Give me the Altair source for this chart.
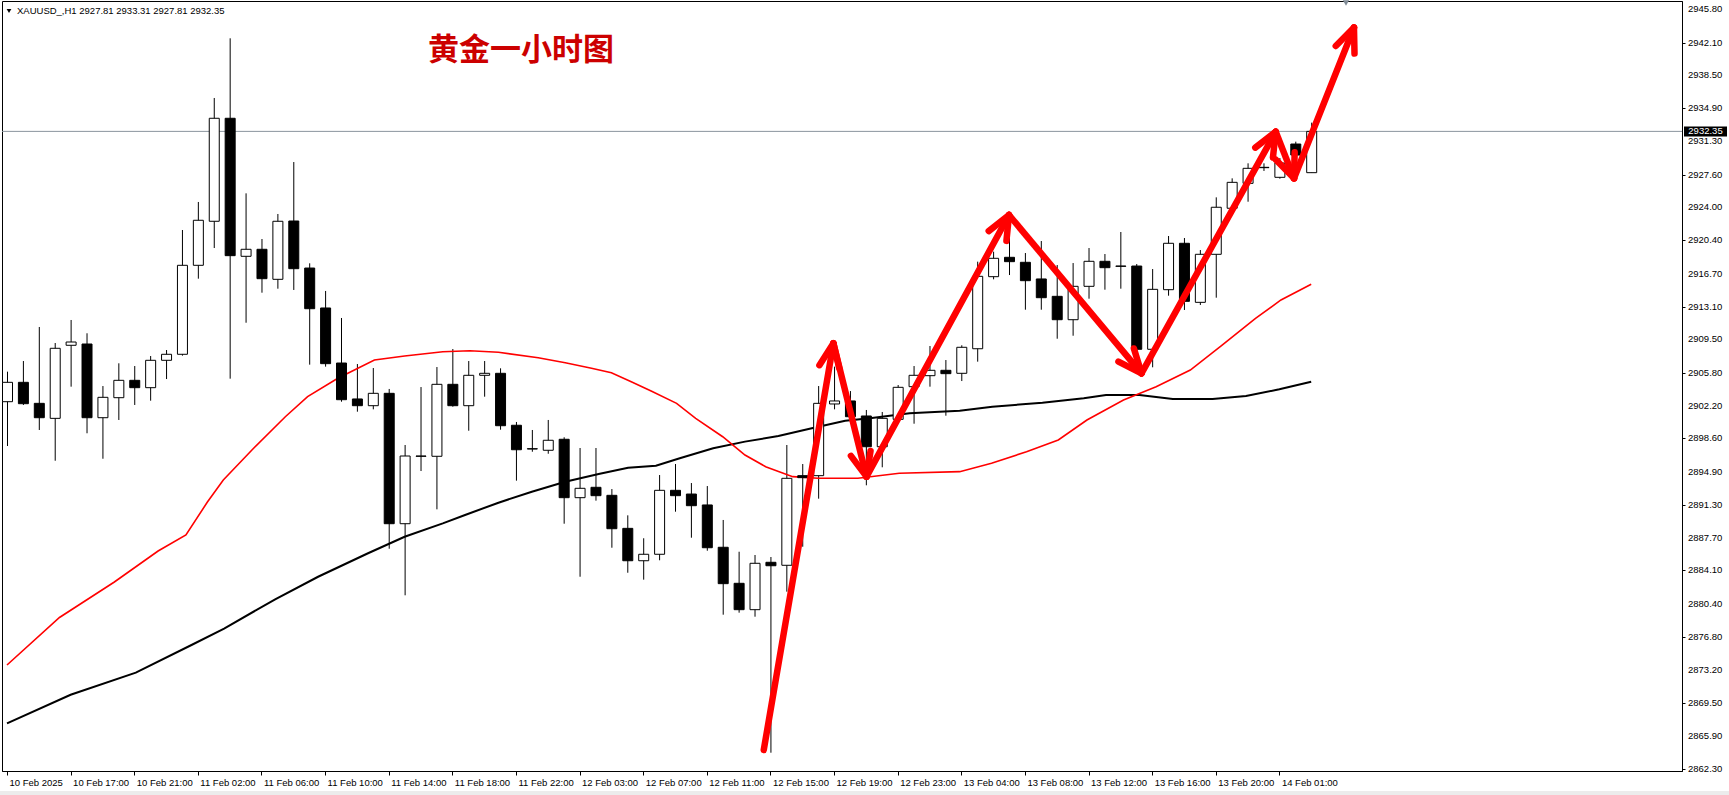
import json
import math

import altair as alt
import numpy as np
import pandas as pd

# ---------------------------------------------------------------------------
# XAUUSD H1 candles (bar 0 = 10 Feb 2025 13:00, one bar per trading hour)
# ---------------------------------------------------------------------------
opens = [2902.64, 2904.77, 2902.46, 2900.81, 2908.84, 2908.98, 2900.88, 2903.08, 2904.99, 2904.18,
         2907.19, 2907.85, 2917.63, 2922.47, 2933.79, 2918.62, 2919.39, 2916.09, 2922.50, 2917.33,
         2912.94, 2906.89, 2902.94, 2902.20, 2903.56, 2889.23, 2896.67, 2896.64, 2904.55, 2902.20,
         2905.54, 2905.76, 2900.05, 2897.47, 2897.30, 2898.51, 2892.09, 2893.23, 2892.35, 2888.72,
         2885.16, 2885.87, 2892.90, 2892.49, 2891.29, 2886.64, 2882.68, 2879.78, 2884.99, 2884.66,
         2894.51, 2894.51, 2902.39, 2902.72, 2901.07, 2897.69, 2900.70, 2904.29, 2905.50, 2906.09,
         2905.76, 2908.46, 2916.38, 2918.51, 2917.96, 2916.13, 2914.22, 2911.65, 2915.32, 2918.07,
         2917.55, 2917.55, 2908.40, 2914.95, 2920.05, 2913.56, 2918.84, 2923.90, 2926.64, 2928.36,
         2927.30, 2930.96, 2927.81]
highs = [2905.94, 2907.11, 2910.85, 2909.09, 2911.62, 2910.16, 2904.36, 2906.86, 2906.56, 2907.66,
         2908.32, 2921.51, 2924.59, 2936.02, 2942.58, 2925.54, 2920.52, 2923.27, 2928.98, 2917.85,
         2914.81, 2911.84, 2906.78, 2906.34, 2904.04, 2897.88, 2904.25, 2906.45, 2908.43, 2907.11,
         2907.11, 2906.31, 2900.41, 2899.53, 2900.63, 2898.73, 2897.55, 2897.55, 2893.04, 2890.15,
         2887.63, 2894.58, 2895.79, 2893.70, 2893.37, 2889.64, 2886.15, 2885.79, 2885.57, 2897.88,
         2895.79, 2904.36, 2906.49, 2903.81, 2901.73, 2901.51, 2904.47, 2906.56, 2908.76, 2907.22,
         2908.84, 2918.03, 2919.13, 2921.32, 2918.98, 2920.30, 2917.66, 2917.88, 2919.53, 2918.87,
         2921.29, 2917.77, 2917.22, 2920.85, 2920.63, 2919.31, 2925.10, 2927.19, 2928.84, 2928.84,
         2929.42, 2931.22, 2933.31]
lows = [2897.77, 2902.28, 2899.53, 2896.15, 2904.29, 2899.17, 2896.37, 2900.63, 2902.28, 2902.75,
        2905.13, 2907.70, 2916.16, 2919.53, 2905.17, 2911.32, 2914.62, 2915.06, 2914.92, 2906.71,
        2906.49, 2902.64, 2901.54, 2901.80, 2886.48, 2881.36, 2895.02, 2890.81, 2902.09, 2899.45,
        2903.19, 2899.56, 2893.96, 2897.14, 2896.92, 2889.23, 2883.40, 2891.76, 2886.59, 2883.84,
        2883.08, 2885.21, 2890.55, 2887.69, 2886.26, 2879.23, 2879.45, 2879.01, 2864.06, 2881.76,
        2886.70, 2891.98, 2901.80, 2900.63, 2893.45, 2895.43, 2900.63, 2900.22, 2904.29, 2901.10,
        2904.91, 2907.04, 2916.09, 2916.56, 2912.75, 2912.75, 2909.56, 2909.89, 2913.96, 2914.95,
        2915.06, 2908.10, 2906.42, 2914.29, 2912.72, 2913.27, 2914.07, 2923.49, 2924.62, 2928.00,
        2927.15, 2928.65, 2927.81]
closes = [2904.77, 2902.42, 2900.88, 2908.51, 2909.20, 2900.88, 2903.12, 2904.99, 2904.18, 2907.19,
          2907.85, 2917.63, 2922.58, 2933.79, 2918.69, 2919.39, 2916.16, 2922.47, 2917.26, 2912.86,
          2906.82, 2902.86, 2902.20, 2903.56, 2889.23, 2896.67, 2896.64, 2904.55, 2902.20, 2905.54,
          2905.76, 2900.00, 2897.36, 2897.44, 2898.40, 2892.09, 2893.12, 2892.31, 2888.68, 2885.16,
          2885.87, 2892.90, 2892.31, 2891.21, 2886.59, 2882.64, 2879.78, 2884.88, 2884.61, 2894.22,
          2894.29, 2902.46, 2902.72, 2900.99, 2897.69, 2900.81, 2904.22, 2905.54, 2906.09, 2905.72,
          2908.62, 2916.42, 2918.40, 2918.03, 2915.94, 2914.07, 2911.65, 2915.32, 2918.07, 2917.37,
          2917.52, 2908.40, 2914.99, 2920.05, 2913.67, 2918.84, 2924.01, 2926.75, 2928.29, 2928.40,
          2928.87, 2929.75, 2932.35]

# Moving averages (bar position, value)
red_ma_bar = [0, 3.3, 6.75, 9.5, 11.25, 12.6, 13.6, 15.4, 17.5, 18.9,
              20.8, 23.1, 25, 27.4, 29.1, 30.9, 33.4, 35.1, 36.75, 38,
              39.25, 40.5, 42.1, 43.3, 45, 46.4, 47.7, 49.4, 51, 53.5,
              56.1, 59.9, 61.9, 64.1, 66.1, 67.9, 70.2, 72.25, 74.4, 76.4,
              78.5, 80.1, 82]
red_ma = [2873.70, 2878.92, 2882.82, 2886.23, 2887.99, 2891.61, 2894.03, 2897.33, 2900.99, 2903.19,
          2905.21, 2907.22, 2907.66, 2908.13, 2908.24, 2908.07, 2907.47, 2906.92, 2906.31, 2905.83,
          2904.84, 2903.82, 2902.46, 2900.81, 2898.79, 2896.78, 2895.50, 2894.40, 2894.22, 2894.22,
          2894.77, 2894.95, 2895.87, 2897.14, 2898.43, 2900.63, 2902.83, 2904.29, 2906.12, 2908.87,
          2911.80, 2913.82, 2915.54]
black_ma_bar = [0, 4.0, 8.1, 11.6, 13.65, 16.86, 19.56, 22.7, 25, 27.4,
                28.8, 30.9, 33, 35.1, 37.2, 39.05, 40.8, 42.3, 44.4, 46.4,
                48.5, 50.6, 52.7, 54.25, 56.75, 59.9, 61.95, 65.1, 67.7, 69.1,
                71.2, 73.3, 75.8, 77.9, 80, 82]
black_ma = [2867.28, 2870.43, 2872.86, 2875.90, 2877.71, 2880.92, 2883.40, 2885.98, 2887.80, 2889.27,
            2890.19, 2891.54, 2892.75, 2893.85, 2894.69, 2895.39, 2895.60, 2896.42, 2897.52, 2898.25,
            2898.87, 2899.72, 2900.55, 2900.81, 2901.36, 2901.65, 2902.09, 2902.53, 2903.01, 2903.38,
            2903.38, 2902.94, 2902.94, 2903.27, 2904.00, 2904.83]

# Hand-drawn trend path (bar position, price); every leg ends in an arrow head
path_bar = [47.58, 51.96, 54.04, 63.0, 71.33, 79.77, 80.92, 84.69]
path_price = [2864.36, 2909.06, 2894.40, 2923.16, 2905.76, 2932.31, 2927.19, 2943.76]

# Axis ticks
price_ticks = [2945.80, 2942.10, 2938.50, 2934.90, 2931.30, 2927.60, 2924.00, 2920.40,
               2916.70, 2913.10, 2909.50, 2905.80, 2902.20, 2898.60, 2894.90, 2891.30,
               2887.70, 2884.10, 2880.40, 2876.80, 2873.20, 2869.50, 2865.90, 2862.30]
time_labels = ["10 Feb 2025", "10 Feb 17:00", "10 Feb 21:00", "11 Feb 02:00", "11 Feb 06:00",
               "11 Feb 10:00", "11 Feb 14:00", "11 Feb 18:00", "11 Feb 22:00", "12 Feb 03:00",
               "12 Feb 07:00", "12 Feb 11:00", "12 Feb 15:00", "12 Feb 19:00", "12 Feb 23:00",
               "13 Feb 04:00", "13 Feb 08:00", "13 Feb 12:00", "13 Feb 16:00", "13 Feb 20:00",
               "14 Feb 01:00"]
LABEL_STEP = 4

SYMBOL = "XAUUSD_,H1"
TITLE = "黄金一小时图"

# ---------------------------------------------------------------------------
W, H = 1680, 770
X_DOMAIN = [0, 105]
Y_DOMAIN = [2862.05, 2946.68]
FONT = "Liberation Sans"
FS = 9.5

x_scale = alt.Scale(domain=X_DOMAIN, nice=False, zero=False)
y_scale = alt.Scale(domain=Y_DOMAIN, nice=False, zero=False)


def xq(field):
    return alt.X(field, scale=x_scale, title=None)


def yq(field):
    return alt.Y(field, scale=y_scale, title=None)


bars = pd.DataFrame({"i": np.arange(len(opens)), "open": opens, "high": highs,
                     "low": lows, "close": closes})

label_expr = f"{json.dumps(time_labels)}[round(datum.value / {LABEL_STEP})]"
x_axis = alt.Axis(values=[k * LABEL_STEP for k in range(len(time_labels))],
                  labelExpr=label_expr, orient="bottom", grid=False, title=None,
                  tickSize=4, tickColor="black", domainColor="black",
                  labelAlign="left", labelBaseline="top", labelPadding=2, labelOffset=2,
                  labelFont=FONT, labelFontSize=FS, labelColor="black",
                  labelFlush=False, labelOverlap=False)
# price axis: domain and ticks from the axis, labels drawn as a text layer
y_axis = alt.Axis(values=price_ticks, orient="right", grid=False, title=None,
                  tickSize=3, tickColor="black", domainColor="black", labels=False)

base = alt.Chart(bars)

wicks = base.mark_rule(color="black", strokeWidth=1, clip=True, xOffset=0.5).encode(
    x=alt.X("i:Q", scale=x_scale, axis=x_axis),
    y=alt.Y("low:Q", scale=y_scale, axis=y_axis),
    y2="high:Q",
)

bodies = base.mark_bar(size=10, stroke="black", strokeWidth=1, clip=True, xOffset=0.5).encode(
    x=xq("i:Q"),
    y=yq("open:Q"),
    y2="close:Q",
    fill=alt.condition("datum.close >= datum.open", alt.value("white"), alt.value("black")),
)

price_labels = alt.Chart(pd.DataFrame({"p": price_ticks})).mark_text(
    font=FONT, fontSize=FS, color="black", align="left", baseline="middle").encode(
    x=alt.value(W + 6), y=yq("p:Q"), text=alt.Text("p:Q", format=".2f"))

red_line = alt.Chart(pd.DataFrame({"i": red_ma_bar, "v": red_ma})).mark_line(
    color="#ff0000", strokeWidth=1.6, clip=True).encode(
    x=xq("i:Q"), y=yq("v:Q"), order="i:Q")
black_line = alt.Chart(pd.DataFrame({"i": black_ma_bar, "v": black_ma})).mark_line(
    color="black", strokeWidth=2, clip=True).encode(
    x=xq("i:Q"), y=yq("v:Q"), order="i:Q")

# Current price line and its tag on the price axis
last = pd.DataFrame({"p": [closes[-1]]})
price_line = alt.Chart(last).mark_rule(color="#8a949e", strokeWidth=1).encode(y=yq("p:Q"))
price_tag = alt.Chart(last).transform_calculate(
    hi="datum.p + 0.55", lo="datum.p - 0.55").mark_rect(color="black").encode(
    x=alt.value(W + 2), x2=alt.value(W + 45), y=yq("hi:Q"), y2="lo:Q")
price_text = alt.Chart(last).mark_text(
    color="white", font=FONT, fontSize=FS, align="center", baseline="middle").encode(
    x=alt.value(W + 23.5), y=yq("p:Q"), text=alt.Text("p:Q", format=".2f"))

# Trend path legs plus arrow heads, built in screen proportions
px_x = W / (X_DOMAIN[1] - X_DOMAIN[0])
px_y = H / (Y_DOMAIN[1] - Y_DOMAIN[0])
HEAD_LEN, HEAD_ANG = 26.0, math.radians(23)
segs = []
for k in range(len(path_bar) - 1):
    x0, y0, x1, y1 = path_bar[k], path_price[k], path_bar[k + 1], path_price[k + 1]
    segs.append((x0, y0, x1, y1))
    dx, dy = (x1 - x0) * px_x, -(y1 - y0) * px_y
    n = math.hypot(dx, dy)
    bx, by = -dx / n, -dy / n
    for s in (1, -1):
        c, sn = math.cos(s * HEAD_ANG), math.sin(s * HEAD_ANG)
        rx, ry = c * bx - sn * by, sn * bx + c * by
        segs.append((x1, y1, x1 + rx * HEAD_LEN / px_x, y1 - ry * HEAD_LEN / px_y))
seg_df = pd.DataFrame(segs, columns=["x", "y", "x2", "y2"])
arrows = alt.Chart(seg_df).mark_rule(color="#ff0000", strokeWidth=6.5, strokeCap="round").encode(
    x=xq("x:Q"), x2="x2:Q", y=yq("y:Q"), y2="y2:Q")

# Header line with symbol and last bar OHLC
header_txt = f"{SYMBOL}  {opens[-1]:.2f} {highs[-1]:.2f} {lows[-1]:.2f} {closes[-1]:.2f}"
header_mark = alt.Chart(pd.DataFrame({"t": [header_txt]})).mark_point(
    shape="triangle-down", filled=True, color="black", size=22, opacity=1).encode(
    x=alt.value(7), y=alt.value(10))
header = alt.Chart(pd.DataFrame({"t": [header_txt]})).mark_text(
    font=FONT, fontSize=FS, color="black", align="left", baseline="middle").encode(
    x=alt.value(15), y=alt.value(10), text="t:N")

title = alt.Chart(pd.DataFrame({"t": [TITLE]})).mark_text(
    font="Noto Sans CJK SC", fontSize=31, fontWeight="bold", color="#cc0000",
    align="left", baseline="middle").encode(
    x=alt.value(426), y=alt.value(49.5), text="t:N")

shift_mark = alt.Chart(pd.DataFrame({"t": [0]})).mark_point(
    shape="triangle-down", filled=True, color="#7f8a95", size=40, opacity=1).encode(
    x=alt.value(1344), y=alt.value(2))

bottom_band = alt.Chart(pd.DataFrame({"t": [0]})).mark_rule(
    color="#ececec", strokeWidth=4).encode(
    x=alt.value(-2), x2=alt.value(W + 47), y=alt.value(H + 22))

chart = alt.layer(
    wicks, bottom_band, price_line, black_line, red_line, bodies, arrows,
    price_labels, price_tag, price_text, header_mark, header, title, shift_mark,
).properties(
    width=W, height=H, autosize="none",
    padding={"left": 2, "top": 1, "right": 47, "bottom": 24},
    background="white",
).configure_view(
    stroke="black", strokeWidth=1
)

chart.save("out.html", embed_options={"renderer": "svg", "actions": False})
